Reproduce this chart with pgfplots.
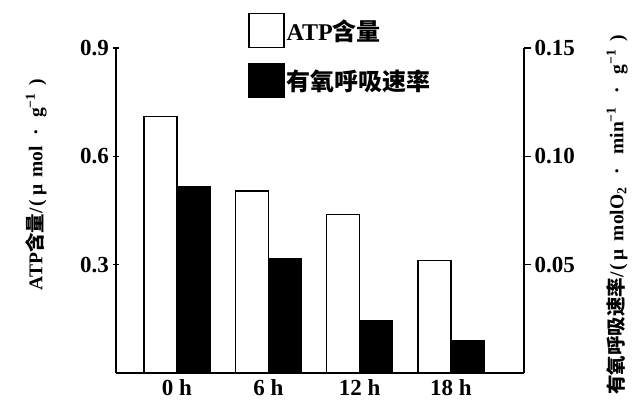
\documentclass[border=0pt]{standalone}
\usepackage{fontspec}
\setmainfont{Liberation Serif}
\newfontfamily\cjk{Noto Sans CJK SC}
\usepackage{pgfplots}
\pgfplotsset{compat=1.18}
\pgfplotsset{sqlegend/.style={legend image code/.code={\draw[##1] (0pt,-17pt) rectangle (35pt,17pt);}}}

\begin{document}
\begin{tikzpicture}
\pgfplotsset{
  common/.style={
    width=408pt, height=325pt, scale only axis,
    at={(0,0)}, anchor=south west,
    xmin=-0.668, xmax=3.8,
    ybar, bar width=33pt,
    axis line style={line width=1.4pt},
    tick style={line width=1.2pt, black},
    major tick length=7pt,
    ticklabel style={font=\fontsize{23}{23}\selectfont\bfseries},
    /pgf/number format/assume math mode=true,
  }
}
\begin{axis}[common,
  axis y line*=left, axis x line*=bottom,
  tick align=center,
  ymin=0, ymax=0.9,
  ytick={0.3,0.6,0.9}, yticklabels={0.3,0.6,0.9},
  xtick={0,1,2,3}, xticklabels={0 h,6 h,12 h,18 h},
  x tick style={draw=none},
  every axis y label/.style={at={(axis description cs:-0.196,0.58)}, rotate=90, anchor=center,
    font=\fontsize{19.5}{19.5}\selectfont\bfseries},
  ylabel={ATP{\cjk 含量}/\hspace{2pt}(\hspace{4pt}μ\hspace{7pt}mol\hspace{11pt}·\hspace{11pt}g\textsuperscript{−1}\hspace{8pt})},
]
\addplot[fill=white, draw=black, line width=1.2pt, bar shift=-16.5pt]
  coordinates {(0,0.710) (1,0.504) (2,0.440) (3,0.311)};
\end{axis}
\begin{axis}[common,
  axis y line*=right, axis x line=none,
  tick align=outside,
  ymin=0, ymax=0.15,
  ytick={0.05,0.10,0.15}, yticklabels={0.05,0.10,0.15},
  every axis y label/.style={at={(axis description cs:1.228,0.486)}, rotate=90, anchor=center,
    font=\fontsize{19.5}{19.5}\selectfont\bfseries},
  ylabel={{\cjk 有氧呼吸速率}/\hspace{2pt}(\hspace{4pt}μ\hspace{8pt}molO\textsubscript{2}\hspace{13pt}·\hspace{13pt}min\textsuperscript{−1}\hspace{13pt}·\hspace{13pt}g\textsuperscript{−1}\hspace{8pt})},
  legend style={at={(axis description cs:0.324,1.108)}, anchor=north west,
    draw=none, fill=none, inner sep=0pt, row sep=15pt,
    font=\fontsize{24}{24}\selectfont\bfseries,
    /tikz/every even column/.append style={column sep=2pt}},
  legend cell align=left,
]
\addlegendimage{fill=white, draw=black, line width=1.2pt, sqlegend}
\addlegendentry{ATP{\cjk 含量}}
\addplot[fill=black, draw=black, line width=1.2pt, bar shift=16.5pt, sqlegend]
  coordinates {(0,0.086) (1,0.053) (2,0.024) (3,0.015)};
\addlegendentry{{\cjk 有氧呼吸速率}}
\end{axis}
\pgfresetboundingbox
\path[use as bounding box] (-116pt,-33pt) rectangle (520pt,373pt);
\end{tikzpicture}
\end{document}
